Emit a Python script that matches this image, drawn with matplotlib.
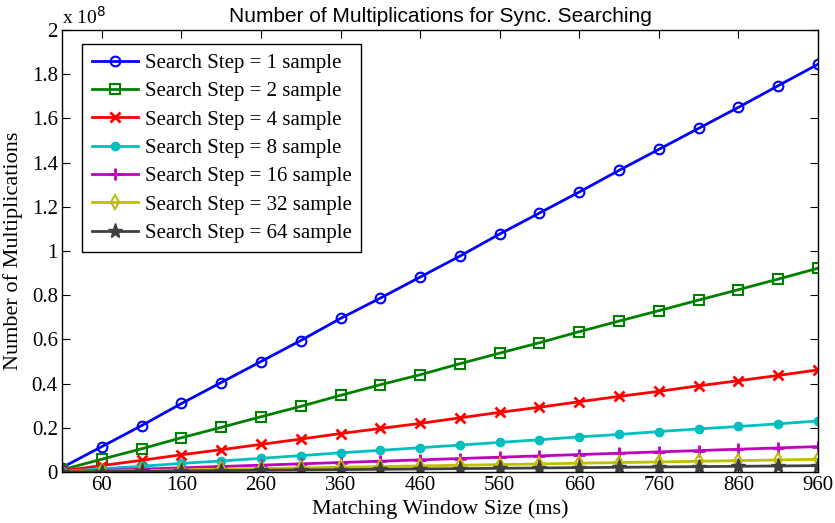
import numpy as np
import matplotlib.pyplot as plt

# matching window sizes (ms)
window_ms = [10, 60, 110, 160, 210, 260, 310, 360, 410, 460,
             510, 560, 610, 660, 710, 760, 810, 860, 910, 960]

# number of multiplications, in units of 1e8
step1 = [0.020, 0.115, 0.210, 0.310, 0.405, 0.500, 0.595, 0.695, 0.787, 0.882,
         0.977, 1.077, 1.172, 1.267, 1.365, 1.460, 1.555, 1.650, 1.748, 1.845]
step2 = [0.010, 0.058, 0.105, 0.155, 0.202, 0.250, 0.297, 0.347, 0.395, 0.440,
         0.490, 0.538, 0.585, 0.635, 0.683, 0.730, 0.778, 0.825, 0.873, 0.922]
step4 = [0.005, 0.029, 0.053, 0.078, 0.101, 0.125, 0.149, 0.174, 0.197, 0.220,
         0.245, 0.270, 0.293, 0.318, 0.342, 0.365, 0.390, 0.413, 0.437, 0.462]
step8 = [0.0025, 0.0145, 0.026, 0.039, 0.050, 0.062, 0.074, 0.087, 0.098, 0.110,
         0.122, 0.134, 0.146, 0.159, 0.170, 0.183, 0.195, 0.206, 0.218, 0.231]
step16 = [0.001, 0.007, 0.013, 0.019, 0.025, 0.031, 0.037, 0.043, 0.049, 0.055,
          0.061, 0.067, 0.073, 0.079, 0.085, 0.091, 0.097, 0.103, 0.109, 0.115]
step32 = [0.0006, 0.0036, 0.0066, 0.0097, 0.0127, 0.0156, 0.0186, 0.0217, 0.0246, 0.0276,
          0.0305, 0.0336, 0.0366, 0.0397, 0.0427, 0.0456, 0.0487, 0.0516, 0.0546, 0.0577]
step64 = [0.0003, 0.0018, 0.0033, 0.0048, 0.0063, 0.0078, 0.0093, 0.0108, 0.0123, 0.0138,
          0.0153, 0.0168, 0.0183, 0.0198, 0.0213, 0.0228, 0.0243, 0.0258, 0.0273, 0.0288]

labels = ['Search Step = 1 sample', 'Search Step = 2 sample', 'Search Step = 4 sample',
          'Search Step = 8 sample', 'Search Step = 16 sample', 'Search Step = 32 sample',
          'Search Step = 64 sample']
xticks = [60, 160, 260, 360, 460, 560, 660, 760, 860, 960]
yticks = [0, 0.2, 0.4, 0.6, 0.8, 1, 1.2, 1.4, 1.6, 1.8, 2]
ytick_labels = ['0', '0.2', '0.4', '0.6', '0.8', '1', '1.2', '1.4', '1.6', '1.8', '2']

series = [step1, step2, step4, step8, step16, step32, step64]
styles = [
    dict(color='#0000ff', marker='o', mfc='none', ms=7, mew=1.5),
    dict(color='#008000', marker='s', mfc='none', ms=6.5, mew=1.5),
    dict(color='#ff0000', marker='x', ms=7, mew=2),
    dict(color='#00bfbf', marker='o', ms=6, mew=1),
    dict(color='#bf00bf', marker='+', ms=9, mew=2),
    dict(color='#bfbf00', marker='d', mfc='none', ms=7, mew=1.5),
    dict(color='#404040', marker='*', ms=11, mew=1),
]

plt.rcParams['font.family'] = 'Liberation Serif'
plt.rcParams['xtick.direction'] = 'in'
plt.rcParams['ytick.direction'] = 'in'

fig = plt.figure(figsize=(8.35, 5.23), dpi=100)
ax = fig.add_axes([0.0743, 0.0975, 0.9053, 0.8451])

for y, lab, st in zip(series, labels, styles):
    ax.plot(window_ms, y, lw=2, label=lab, **st)

ax.set_xlim(10, 960)
ax.set_ylim(0, 2)
ax.set_xticks(xticks)
ax.set_yticks(yticks)
ax.set_yticklabels(ytick_labels)
ax.tick_params(labelsize=15, length=6, top=True, right=True, pad=3)
for s in ax.spines.values():
    s.set_linewidth(1)

ax.set_xlabel('Matching Window Size (ms)', fontsize=16, labelpad=3)
ax.set_ylabel('Number of Multiplications', fontsize=16, labelpad=6)
ax.set_title('Number of Multiplications for Sync. Searching',
             fontsize=15, family='Liberation Sans', pad=6)
ax.text(0.0, 1.005, r'x 10$^8$', transform=ax.transAxes, fontsize=14,
        ha='left', va='bottom')

leg = ax.legend(loc='upper left', fontsize=15, fancybox=False, framealpha=1,
                edgecolor='black', handlelength=2.2, handletextpad=0.35,
                labelspacing=0.42, borderpad=0.45, borderaxespad=0,
                bbox_to_anchor=(0.027, 0.968))
leg.get_frame().set_linewidth(1)

fig.savefig('out.png', dpi=100)
